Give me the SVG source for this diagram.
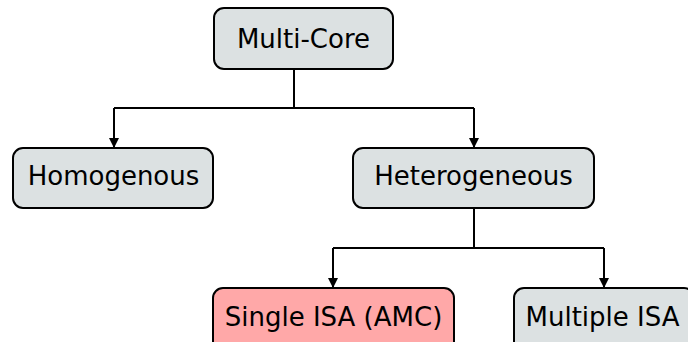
<svg xmlns="http://www.w3.org/2000/svg" width="688" height="342" viewBox="0 0 688 342">
<style>
.box{fill:#dce1e2;stroke:#000;stroke-width:2}
.pink{fill:#ffa8a8}
.lbl{font-family:"DejaVu Sans",sans-serif;font-size:26px;fill:#000;text-anchor:middle}
.con{fill:none;stroke:#000;stroke-width:2}
</style>
<defs>
<marker id="arr" markerWidth="10" markerHeight="10" refX="9" refY="5" orient="auto" markerUnits="userSpaceOnUse">
<path d="M0,0 L10,5 L0,10 Z" fill="#000"/>
</marker>
</defs>
<rect width="688" height="342" fill="#fff"/>
<g id="connectors">
<path class="con" d="M294,69 V108"/>
<path class="con" d="M114,108 H474"/>
<path class="con" d="M114,108 V147" marker-end="url(#arr)"/>
<path class="con" d="M474,108 V147" marker-end="url(#arr)"/>
<path class="con" d="M474,208 V248"/>
<path class="con" d="M333,248 H604"/>
<path class="con" d="M333,248 V287" marker-end="url(#arr)"/>
<path class="con" d="M604,248 V287" marker-end="url(#arr)"/>
</g>
<g id="multicore">
<rect class="box" x="214" y="8" width="179" height="61" rx="10"/>
<text class="lbl" x="303.5" y="48">Multi-Core</text>
</g>
<g id="homogenous">
<rect class="box" x="13" y="148" width="200" height="60" rx="10"/>
<text class="lbl" x="113.5" y="185">Homogenous</text>
</g>
<g id="heterogeneous">
<rect class="box" x="353" y="148" width="241" height="60" rx="10"/>
<text class="lbl" x="473.5" y="185">Heterogeneous</text>
</g>
<g id="single-isa">
<rect class="box pink" x="213" y="288" width="241" height="70" rx="10"/>
<text class="lbl" x="333.5" y="326">Single ISA (AMC)</text>
</g>
<g id="multiple-isa">
<rect class="box" x="514" y="288" width="180" height="70" rx="10"/>
<text class="lbl" x="602.5" y="326">Multiple ISA</text>
</g>
</svg>
